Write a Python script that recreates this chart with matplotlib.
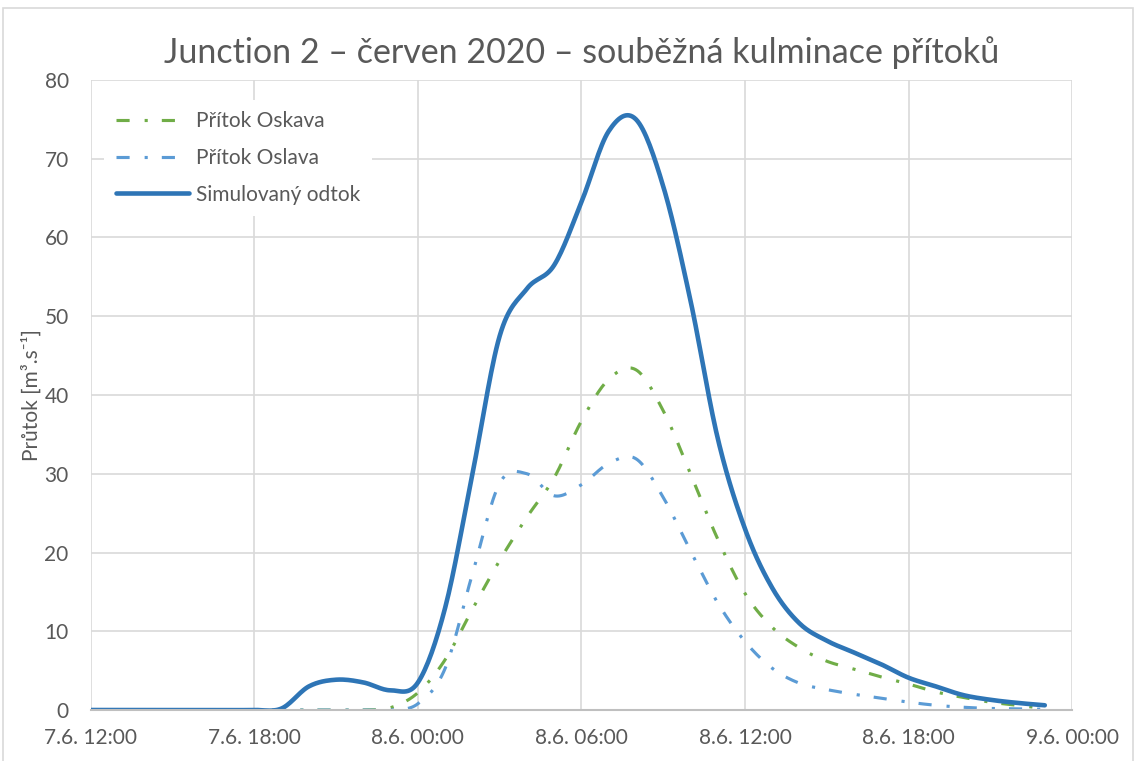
import numpy as np
import matplotlib
matplotlib.use("Agg")
import matplotlib.pyplot as plt
from matplotlib.patches import Rectangle

plt.rcParams['font.family'] = ['Lato', 'DejaVu Sans']

# hours since 7.6. 12:00
hours = list(range(0, 36))

oskava = [0, 0, 0, 0, 0, 0, 0, 0, 0, 0, 0, 0.3, 2.2, 6.4, 12.8, 19.0, 24.5, 29.5,
          36.7, 42.0, 43.2, 38.0, 30.0, 21.7, 14.8, 10.5, 7.9, 6.2, 5.2, 4.2, 3.3,
          2.3, 1.6, 1.0, 0.6, 0.2]
oslava = [0, 0, 0, 0, 0, 0, 0, 0, 0, 0, 0, 0, 0.8, 5.3, 17.3, 28.8, 30.0, 27.2,
          28.6, 31.3, 31.9, 27.0, 20.2, 13.6, 8.7, 5.3, 3.4, 2.6, 2.0, 1.5, 1.0,
          0.6, 0.35, 0.2, 0.15, 0.1]
odtok = [0, 0, 0, 0, 0, 0, 0, 0.2, 3.0, 3.85, 3.5, 2.5, 3.5, 13.0, 30.0, 47.5,
         53.5, 56.5, 64.5, 73.5, 75.0, 66.5, 52.0, 34.5, 23.0, 15.5, 11.0, 8.8,
         7.3, 5.8, 4.1, 3.0, 1.9, 1.3, 0.9, 0.6]

tick_pos = [0, 6, 12, 18, 24, 30, 36]
tick_labels = ["7.6. 12:00", "7.6. 18:00", "8.6. 00:00", "8.6. 06:00",
               "8.6. 12:00", "8.6. 18:00", "9.6. 00:00"]


def smooth(x, y, n=16):
    # Excel-like smoothed line (Catmull-Rom)
    p = np.column_stack([x, y]).astype(float)
    p = np.vstack([p[0], p, p[-1]])
    out = []
    t = np.linspace(0, 1, n, endpoint=False)[:, None]
    for i in range(1, len(p) - 2):
        p0, p1, p2, p3 = p[i - 1], p[i], p[i + 1], p[i + 2]
        seg = 0.5 * ((2 * p1) + (-p0 + p2) * t + (2 * p0 - 5 * p1 + 4 * p2 - p3) * t ** 2
                     + (-p0 + 3 * p1 - 3 * p2 + p3) * t ** 3)
        out.append(seg)
    out.append(p[-2][None, :])
    out = np.vstack(out)
    return out[:, 0], out[:, 1]


fig = plt.figure(figsize=(11.36, 7.61), dpi=100)
ax = fig.add_axes([0.080, 0.067, 0.8637, 0.8279])

fig.patches.append(Rectangle((3 / 1136, -0.01), 1130 / 1136, 1 - 8 / 761 + 0.01,
                             transform=fig.transFigure, fill=False,
                             edgecolor="#D9D9D9", linewidth=1.2))

dd = (4.2, 4.8, 1.0, 4.5)
sx, sy = smooth(hours, oskava)
ax.plot(sx, sy, color="#70AD47", lw=2.25, dashes=dd, label="Přítok Oskava")
sx, sy = smooth(hours, oslava)
ax.plot(sx, sy, color="#5B9BD5", lw=2.25, dashes=dd, label="Přítok Oslava")
sx, sy = smooth(hours, odtok)
ax.plot(sx, sy, color="#2E75B6", lw=3.3, solid_capstyle="round",
        label="Simulovaný odtok")

ax.set_xlim(0, 36)
ax.set_ylim(0, 80)
ax.set_xticks(tick_pos)
ax.set_xticklabels(tick_labels)
ax.set_yticks(range(0, 81, 10))
ax.grid(True, color="#D9D9D9", lw=1.2)
ax.set_axisbelow(True)
for s in ["top", "right", "left"]:
    ax.spines[s].set_visible(False)
ax.spines["bottom"].set_color("#BFBFBF")
ax.spines["bottom"].set_linewidth(1.5)
ax.tick_params(length=0, labelsize=15, labelcolor="#595959")
ax.tick_params(axis="x", pad=13)
ax.tick_params(axis="y", pad=16)

ax.set_ylabel("Průtok [m³.s⁻¹]", fontsize=15, color="#595959", labelpad=2)
ax.set_title("Junction 2 – červen 2020 – souběžná kulminace přítoků",
             fontsize=24.5, color="#595959", pad=12)

leg = ax.legend(loc="upper left", bbox_to_anchor=(0.003, 0.985), frameon=True,
                fontsize=15, handlelength=3.5, labelspacing=0.8,
                borderpad=0.55, handletextpad=0.35)
leg.get_frame().set_facecolor("white")
leg.get_frame().set_edgecolor("none")
leg.get_frame().set_alpha(1)
for t in leg.get_texts():
    t.set_color("#595959")

fig.savefig("out.png", dpi=100)
